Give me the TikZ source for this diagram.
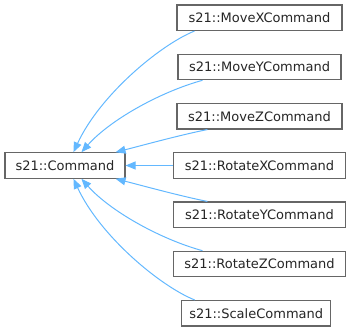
\documentclass[tikz,border=0pt]{standalone}
\usepackage{fontspec}
\setmainfont{DejaVu Sans}
\usetikzlibrary{arrows.meta}
\definecolor{edgeblue}{HTML}{63B8FF}
\definecolor{boxgray}{HTML}{666666}
\begin{document}
\begin{tikzpicture}[x=1pt,y=-1pt,
  cls/.style={draw=boxgray, line width=1.1pt, fill=white, minimum height=25.5pt,
    inner sep=0pt, font=\fontsize{13}{15}\selectfont, text=black!85},
  inh/.style={draw=edgeblue, line width=1pt,
    -{Triangle[length=10pt,width=8pt]}}]
\useasboundingbox (0,0) rectangle (351,332);

% base class
\node[cls, minimum width=120pt] (cmd) at (65,165.5) {s21::Command};

% derived classes
\node[cls, minimum width=165pt] (mx) at (259.5,17.75)  {s21::MoveXCommand};
\node[cls, minimum width=163pt] (my) at (259.5,67)     {s21::MoveYCommand};
\node[cls, minimum width=165pt] (mz) at (259.5,116.25) {s21::MoveZCommand};
\node[cls, minimum width=172pt] (rx) at (259.5,165.5)  {s21::RotateXCommand};
\node[cls, minimum width=172pt] (ry) at (259.5,214.75) {s21::RotateYCommand};
\node[cls, minimum width=172pt] (rz) at (259.5,264)    {s21::RotateZCommand};
\node[cls, minimum width=149pt] (sc) at (256.2,313.25) {s21::ScaleCommand};

% inheritance edges
\draw[inh] ([xshift=18pt]mx.south west) .. controls (160,45) and (100,95) .. ([xshift=69pt]cmd.north west);
\draw[inh] ([xshift=25pt]my.south west) .. controls (160,92) and (110,120) .. ([xshift=77pt]cmd.north west);
\draw[inh] ([xshift=31pt]mz.south west) .. controls (180,135) and (140,146) .. ([xshift=-10pt]cmd.north east);
\draw[inh] (rx.west) -- (cmd.east);
\draw[inh] ([xshift=34.5pt]ry.north west) .. controls (180,196) and (140,185) .. ([xshift=-10pt]cmd.south east);
\draw[inh] ([xshift=29.5pt]rz.north west) .. controls (160,239) and (110,211) .. ([xshift=77pt]cmd.south west);
\draw[inh] ([xshift=13.5pt]sc.north west) .. controls (160,286) and (100,236) .. ([xshift=69pt]cmd.south west);
\end{tikzpicture}
\end{document}
